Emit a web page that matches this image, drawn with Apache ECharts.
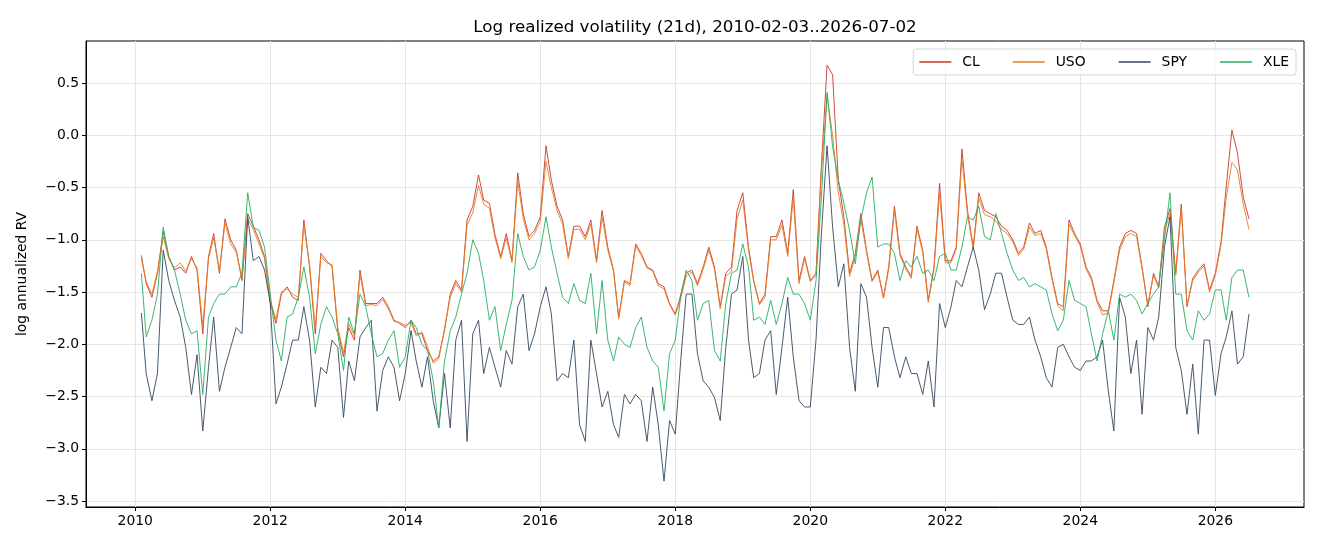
<!DOCTYPE html>
<html>
<head>
<meta charset="utf-8">
<script src="https://cdn.jsdelivr.net/npm/echarts@6/dist/echarts.min.js"></script>
<style>
  html, body { margin: 0; padding: 0; background: #fff; }
  #chart { width: 1320px; height: 550px; }
</style>
</head>
<body>
<div id="chart"></div>
<script>
// monthly samples, 2010-02 .. 2026-07 (first/last are the real endpoints)
const dates = []
for (let m = 1; m <= 198; m++) {
  const y = 2010 + Math.floor(m / 12)
  const mo = String(m % 12 + 1).padStart(2, '0')
  dates.push(m === 1 ? '2010-02-03' : m === 198 ? '2026-07-02' : `${y}-${mo}-01`)
}

// one row per calendar year
const clVals = [
  -1.15, -1.42, -1.55, -1.32, -0.92, -1.16, -1.29, -1.26, -1.32, -1.16, -1.29,
  -1.90, -1.16, -0.94, -1.32, -0.80, -1.00, -1.10, -1.39, -0.75, -0.87, -1.00, -1.16,
  -1.60, -1.80, -1.52, -1.45, -1.55, -1.58, -0.81, -1.26, -1.90, -1.13, -1.20, -1.26,
  -1.87, -2.12, -1.84, -1.96, -1.29, -1.61, -1.61, -1.61, -1.55, -1.64, -1.77, -1.80,
  -1.84, -1.77, -1.90, -1.90, -2.06, -2.16, -2.12, -1.87, -1.52, -1.39, -1.48, -0.81,
  -0.68, -0.38, -0.62, -0.65, -0.95, -1.16, -0.94, -1.20, -0.36, -0.75, -0.97, -0.91,
  -0.78, -0.10, -0.43, -0.68, -0.81, -1.16, -0.87, -0.87, -0.97, -0.81, -1.20, -0.72,
  -1.07, -1.29, -1.74, -1.39, -1.42, -1.04, -1.13, -1.26, -1.29, -1.42, -1.45, -1.61,
  -1.71, -1.52, -1.32, -1.29, -1.42, -1.26, -1.07, -1.26, -1.64, -1.32, -1.26, -0.72,
  -0.55, -1.07, -1.39, -1.61, -1.52, -0.97, -0.97, -0.81, -1.13, -0.52, -1.39, -1.16,
  -1.39, -1.32, -0.30, 0.67, 0.58, -0.43, -0.78, -1.32, -1.13, -0.75, -1.10, -1.39,
  -1.29, -1.55, -1.26, -0.68, -1.13, -1.26, -1.35, -0.87, -1.10, -1.58, -1.26, -0.46,
  -1.20, -1.20, -1.07, -0.13, -0.72, -1.07, -0.55, -0.72, -0.75, -0.78, -0.87, -0.91,
  -1.00, -1.13, -1.07, -0.84, -0.94, -0.91, -1.07, -1.36, -1.61, -1.64, -0.81, -0.94,
  -1.04, -1.26, -1.36, -1.58, -1.68, -1.68, -1.39, -1.07, -0.94, -0.91, -0.94, -1.26,
  -1.64, -1.32, -1.45, -0.88, -0.70, -1.32, -0.66, -1.64, -1.37, -1.29, -1.23, -1.48,
  -1.32, -1.02, -0.49, 0.05, -0.17, -0.59, -0.80
]

const usoVals = [
  -1.18, -1.40, -1.52, -1.30, -0.97, -1.18, -1.27, -1.22, -1.30, -1.18, -1.27,
  -1.82, -1.18, -0.98, -1.30, -0.84, -1.04, -1.12, -1.36, -0.80, -0.90, -1.04, -1.18,
  -1.58, -1.76, -1.50, -1.47, -1.52, -1.55, -0.86, -1.24, -1.85, -1.16, -1.22, -1.24,
  -1.84, -2.08, -1.80, -1.92, -1.33, -1.63, -1.62, -1.63, -1.57, -1.66, -1.78, -1.79,
  -1.82, -1.79, -1.92, -1.88, -2.02, -2.18, -2.14, -1.85, -1.55, -1.42, -1.50, -0.86,
  -0.74, -0.48, -0.66, -0.70, -0.98, -1.18, -0.98, -1.22, -0.44, -0.80, -1.00, -0.94,
  -0.82, -0.25, -0.50, -0.72, -0.85, -1.18, -0.90, -0.90, -1.00, -0.85, -1.22, -0.78,
  -1.10, -1.30, -1.76, -1.40, -1.44, -1.06, -1.15, -1.27, -1.30, -1.44, -1.47, -1.62,
  -1.72, -1.55, -1.35, -1.31, -1.44, -1.28, -1.10, -1.28, -1.66, -1.35, -1.30, -0.80,
  -0.62, -1.10, -1.40, -1.62, -1.55, -1.00, -1.00, -0.86, -1.16, -0.60, -1.42, -1.18,
  -1.40, -1.34, -0.35, 0.38, 0.00, -0.55, -0.85, -1.35, -1.16, -0.80, -1.12, -1.40,
  -1.31, -1.56, -1.28, -0.72, -1.15, -1.28, -1.37, -0.90, -1.12, -1.60, -1.28, -0.55,
  -1.22, -1.22, -1.09, -0.22, -0.76, -1.09, -0.60, -0.76, -0.78, -0.82, -0.90, -0.94,
  -1.02, -1.15, -1.09, -0.88, -0.96, -0.94, -1.09, -1.38, -1.63, -1.68, -0.85, -0.96,
  -1.06, -1.28, -1.38, -1.60, -1.72, -1.70, -1.41, -1.10, -0.97, -0.94, -0.97, -1.28,
  -1.62, -1.34, -1.46, -0.92, -0.75, -1.34, -0.70, -1.62, -1.39, -1.31, -1.25, -1.50,
  -1.34, -1.05, -0.60, -0.26, -0.33, -0.66, -0.90
]

const spyVals = [
  -1.70, -2.28, -2.54, -2.28, -1.10, -1.39, -1.58, -1.74, -2.03, -2.48, -2.10,
  -2.83, -2.22, -1.74, -2.45, -2.22, -2.03, -1.84, -1.90, -0.78, -1.20, -1.16, -1.29,
  -1.61, -2.57, -2.41, -2.19, -1.96, -1.96, -1.64, -1.96, -2.60, -2.22, -2.28, -1.96,
  -2.03, -2.70, -2.16, -2.35, -1.93, -1.84, -1.77, -2.64, -2.25, -2.12, -2.22, -2.54,
  -2.28, -1.87, -2.16, -2.41, -2.12, -2.54, -2.80, -2.28, -2.80, -1.96, -1.77, -2.93,
  -1.90, -1.77, -2.28, -2.03, -2.22, -2.41, -2.06, -2.19, -1.64, -1.52, -2.06, -1.90,
  -1.64, -1.45, -1.71, -2.35, -2.28, -2.32, -1.96, -2.77, -2.93, -1.96, -2.28, -2.60,
  -2.45, -2.77, -2.89, -2.48, -2.57, -2.48, -2.54, -2.93, -2.41, -2.77, -3.31, -2.73,
  -2.86, -2.12, -1.52, -1.52, -2.09, -2.35, -2.41, -2.51, -2.73, -2.03, -1.52, -1.48,
  -1.16, -1.96, -2.32, -2.28, -1.96, -1.87, -2.48, -2.03, -1.55, -2.12, -2.54, -2.60,
  -2.60, -1.96, -0.95, -0.10, -0.88, -1.45, -1.23, -2.03, -2.45, -1.42, -1.55, -2.03,
  -2.41, -1.84, -1.84, -2.12, -2.32, -2.12, -2.28, -2.28, -2.48, -2.16, -2.60, -1.61,
  -1.84, -1.64, -1.39, -1.45, -1.26, -1.07, -1.29, -1.67, -1.52, -1.32, -1.32, -1.55,
  -1.77, -1.81, -1.81, -1.74, -1.96, -2.12, -2.32, -2.41, -2.03, -2.00, -2.12, -2.22,
  -2.25, -2.16, -2.16, -2.12, -1.96, -2.45, -2.83, -1.55, -1.74, -2.28, -1.96, -2.67,
  -1.84, -1.96, -1.74, -1.07, -0.78, -2.03, -2.25, -2.67, -2.19, -2.86, -1.96, -1.96,
  -2.49, -2.09, -1.93, -1.68, -2.19, -2.12, -1.71
]

const xleVals = [
  -1.32, -1.93, -1.77, -1.52, -0.88, -1.16, -1.29, -1.52, -1.77, -1.90, -1.87,
  -2.48, -1.74, -1.61, -1.52, -1.52, -1.45, -1.45, -1.32, -0.55, -0.88, -0.91, -1.07,
  -1.52, -1.96, -2.16, -1.74, -1.71, -1.55, -1.26, -1.55, -2.09, -1.81, -1.64, -1.74,
  -1.90, -2.25, -1.74, -1.90, -1.52, -1.64, -1.90, -2.12, -2.09, -1.96, -1.87, -2.22,
  -2.12, -1.77, -1.84, -2.00, -2.06, -2.35, -2.80, -2.16, -1.87, -1.74, -1.52, -1.32,
  -1.00, -1.13, -1.39, -1.77, -1.64, -2.06, -1.81, -1.58, -0.94, -1.16, -1.29, -1.26,
  -1.10, -0.78, -1.07, -1.32, -1.55, -1.61, -1.42, -1.58, -1.61, -1.32, -1.90, -1.39,
  -1.96, -2.16, -1.93, -2.00, -2.03, -1.84, -1.74, -2.03, -2.16, -2.22, -2.64, -2.09,
  -1.96, -1.52, -1.29, -1.39, -1.77, -1.61, -1.58, -2.06, -2.16, -1.61, -1.32, -1.29,
  -1.04, -1.26, -1.77, -1.74, -1.81, -1.58, -1.81, -1.61, -1.36, -1.52, -1.52, -1.61,
  -1.77, -1.39, -0.60, 0.41, -0.11, -0.43, -0.65, -0.91, -1.23, -0.81, -0.55, -0.40,
  -1.07, -1.04, -1.04, -1.13, -1.39, -1.20, -1.26, -1.16, -1.32, -1.29, -1.39, -1.16,
  -1.13, -1.29, -1.29, -1.07, -0.78, -0.81, -0.68, -0.97, -1.00, -0.75, -0.94, -1.13,
  -1.29, -1.39, -1.36, -1.45, -1.42, -1.45, -1.48, -1.71, -1.87, -1.77, -1.39, -1.58,
  -1.61, -1.64, -1.90, -2.16, -1.90, -1.68, -1.96, -1.52, -1.55, -1.52, -1.58, -1.71,
  -1.61, -1.52, -1.45, -1.00, -0.55, -1.52, -1.52, -1.87, -1.96, -1.68, -1.77, -1.71,
  -1.48, -1.48, -1.77, -1.36, -1.29, -1.29, -1.55
]

const xTicks = [2010, 2012, 2014, 2016, 2018, 2020, 2022, 2024, 2026]
const yTicks = [-3.5, -3.0, -2.5, -2.0, -1.5, -1.0, -0.5, 0.0, 0.5]

const FONT = 'DejaVu Sans'

// date string -> fractional year
const toYear = (s) => {
  const [y, m, d] = s.split('-').map(Number)
  const t0 = Date.UTC(y, 0, 1), t1 = Date.UTC(y + 1, 0, 1)
  return y + (Date.UTC(y, m - 1, d) - t0) / (t1 - t0)
}
const xs = dates.map(toYear)

const seriesCfg = [
  {name: 'CL', values: clVals, color: '#c9392b'},
  {name: 'USO', values: usoVals, color: '#e67e22'},
  {name: 'SPY', values: spyVals, color: '#34495e'},
  {name: 'XLE', values: xleVals, color: '#27ae60'},
]

const chart = echarts.init(document.getElementById('chart'))

chart.setOption({
  animation: false,
  title: {
    text: 'Log realized volatility (21d), 2010-02-03..2026-07-02',
    left: 695,
    textAlign: 'center',
    top: 19,
    padding: 0,
    textStyle: {fontFamily: FONT, fontSize: 16.7, fontWeight: 'normal', color: '#000'}
  },
  legend: {
    right: 24,
    top: 49,
    padding: [6, 7, 6, 6],
    itemGap: 33,
    itemWidth: 32,
    itemHeight: 1.5,
    icon: 'rect',
    borderColor: '#d6d6d6',
    borderWidth: 1,
    borderRadius: 3,
    backgroundColor: 'rgba(255,255,255,0.8)',
    textStyle: {fontFamily: FONT, fontSize: 13.9, color: '#000', padding: [0, 0, 0, 6]},
    data: seriesCfg.map(s => s.name)
  },
  grid: {
    left: 86, right: 16, top: 41, bottom: 43,
    show: true, borderColor: '#000', borderWidth: 1, containLabel: false
  },
  xAxis: {
    type: 'value',
    min: 2009.27,
    max: 2027.314,
    axisLine: {show: true, onZero: false, lineStyle: {color: '#000', width: 1}},
    axisTick: {show: true, length: 4, lineStyle: {color: '#000'}, customValues: xTicks},
    axisLabel: {
      customValues: xTicks, margin: 7, color: '#000',
      fontFamily: FONT, fontSize: 13.9, formatter: (v) => String(v)
    },
    splitLine: {show: true, lineStyle: {color: '#e6e6e6', width: 1}}
  },
  yAxis: {
    type: 'value',
    min: -3.557,
    max: 0.902,
    name: 'log annualized RV',
    nameLocation: 'middle',
    nameGap: 57,
    nameTextStyle: {fontFamily: FONT, fontSize: 13.9, color: '#000'},
    axisLine: {show: true, onZero: false, lineStyle: {color: '#000', width: 1}},
    axisTick: {show: true, length: 4, lineStyle: {color: '#000'}, customValues: yTicks},
    axisLabel: {
      customValues: yTicks, margin: 7, color: '#000',
      fontFamily: FONT, fontSize: 13.9,
      formatter: (v) => v.toFixed(1).replace('-', '\u2212')
    },
    splitLine: {show: true, lineStyle: {color: '#e6e6e6', width: 1}}
  },
  series: seriesCfg.map(s => ({
    name: s.name,
    type: 'line',
    data: s.values.map((v, i) => [xs[i], v]),
    showSymbol: false,
    symbol: 'none',
    color: s.color,
    lineStyle: {width: 1, color: s.color, opacity: 0.9},
    emphasis: {disabled: true}
  }))
})
</script>
</body>
</html>
